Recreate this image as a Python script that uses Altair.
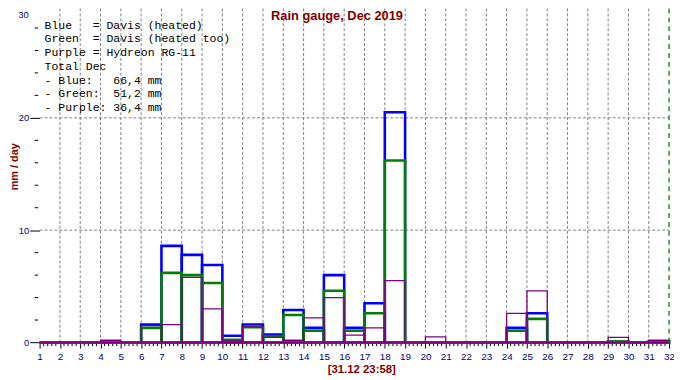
import altair as alt
import pandas as pd

# ---------------- data ----------------
days = list(range(1, 32))
blue = [0, 0, 0, 0, 0, 1.6, 8.6, 7.8, 6.9, 0.6, 1.6, 0.7, 2.9, 1.3, 6.0, 1.3, 3.5, 20.5,
        0, 0, 0, 0, 0, 1.3, 2.6, 0, 0, 0, 0.05, 0, 0.1]
green = [0, 0, 0, 0, 0, 1.3, 6.2, 6.0, 5.3, 0.25, 1.35, 0.55, 2.45, 1.05, 4.6, 1.05, 2.6, 16.2,
         0, 0, 0, 0, 0, 1.05, 2.1, 0, 0, 0, 0.1, 0, 0.1]
purple = [0, 0, 0, 0.2, 0, 1.5, 1.6, 5.8, 3.0, 0.15, 1.4, 0.45, 0.2, 2.2, 4.0, 0.65, 1.3, 5.5,
          0, 0.5, 0, 0, 0, 2.6, 4.6, 0, 0, 0, 0.45, 0, 0.2]

x_ticks = list(range(1, 33))
x_grid = list(range(2, 32))
y_ticks = [0, 10, 20]
y_top = 30
y_grid = [10, 20]
y_minor = [v for v in range(2, 30, 2) if v % 10 != 0]
x_minor = [d + k / 5 for d in range(1, 32) for k in range(1, 5)]
now_pos = 31.999

title_text = "Rain gauge, Dec 2019"
y_title = "mm / day"
time_text = "[31.12 23:58]"
legend_lines = [
    "Blue   = Davis (heated)",
    "Green  = Davis (heated too)",
    "Purple = Hydreon RG-11",
    "Total Dec",
    "- Blue:   66,4 mm",
    "- Green:  51,2 mm",
    "- Purple: 36,4 mm",
]
legend_lines = [s.replace(" ", "\u00a0") for s in legend_lines]

# ---------------- layout ----------------
W, H = 637, 336
NAVY = "#000080"
DARKRED = "#800000"
SANS = "Liberation Sans, Arial, sans-serif"
NARROW = "Liberation Sans Narrow, Liberation Sans, Arial, sans-serif"

xscale = alt.Scale(domain=[1, 32], nice=False, zero=False)
yscale = alt.Scale(domain=[0, 30], range=[336.3, -4.7], nice=False, zero=False)

x_axis = alt.Axis(
    values=x_ticks, format="d", title=None, grid=False, domainColor="black", domainWidth=1,
    tickColor="black", tickSize=6, labelColor=NAVY, labelFont=NARROW, labelFontSize=10,
    labelPadding=4, labelFlush=False, labelOverlap=False,
)
y_axis = alt.Axis(
    values=y_ticks, format="d", grid=False, domain=False, tickColor="black", tickSize=10,
    labelColor=NAVY, labelFont=NARROW, labelFontSize=9.5, labelPadding=1,
    title=y_title, titleColor=DARKRED, titleFont=SANS, titleFontSize=11, titleFontWeight="bold",
    titleAngle=270, titleX=-25, titleY=158, titleAlign="center", titleBaseline="middle",
)


def X(field):
    return alt.X(field, type="quantitative", scale=xscale, axis=x_axis)


def Y(field):
    return alt.Y(field, type="quantitative", scale=yscale, axis=y_axis)


def series_df(vals):
    return pd.DataFrame({"d0": days, "d1": [d + 1 for d in days], "v": vals})


# grid
vgrid = alt.Chart(pd.DataFrame({"x": x_grid, "y0": [0] * len(x_grid), "y1": [30] * len(x_grid)})).mark_rule(
    color="#808080", strokeDash=[3, 2], strokeWidth=1
).encode(x=X("x"), y=Y("y0"), y2="y1")

hgrid = alt.Chart(pd.DataFrame({"y": y_grid, "x0": [1] * len(y_grid), "x1": [32] * len(y_grid)})).mark_rule(
    color="#808080", strokeDash=[3, 2], strokeWidth=1
).encode(y=Y("y"), x=X("x0"), x2="x1")

# minor ticks
xminor = alt.Chart(pd.DataFrame({"x": x_minor})).mark_rule(color="black", strokeWidth=1).encode(
    x=X("x"), y=alt.value(H), y2=alt.value(H + 4),
)
yminor = alt.Chart(pd.DataFrame({"y": y_minor})).mark_rule(color="black", strokeWidth=1).encode(
    y=Y("y"), x=alt.value(-5), x2=alt.value(-1.5),
)

# top tick label (its true position lies above the page margin, so nudge it into view)
top_label = alt.Chart(pd.DataFrame({"y": [y_top], "t": [str(y_top)]})).mark_text(
    font=NARROW, fontSize=9.5, color=NAVY, align="right", baseline="middle", dy=9.5,
).encode(y=Y("y"), x=alt.value(-11), text="t:N")


def outline(vals, color, width):
    return alt.Chart(series_df(vals)).mark_rect(filled=False, stroke=color, strokeWidth=width).encode(
        x=X("d0"), x2="d1", y=Y("v"), y2=alt.datum(0),
    )


blue_l = outline(blue, "#0000FF", 2.6)
green_l = outline(green, "#008000", 2.6)
purple_l = outline(purple, "#800080", 1.3)

# "now" marker
now_l = alt.Chart(pd.DataFrame({"x": [now_pos], "y0": [0], "y1": [30]})).mark_rule(
    color="#008000", strokeDash=[5, 4], strokeWidth=1.3
).encode(x=X("x"), y=Y("y0"), y2="y1")

one = pd.DataFrame({"k": [0]})
title_l = alt.Chart(one).mark_text(
    text=title_text, font=SANS, fontSize=13, fontWeight="bold", color=DARKRED,
    align="center", baseline="alphabetic",
).encode(x=alt.value(301), y=alt.value(9.5))

legend_l = alt.Chart(one).mark_text(
    text=legend_lines, font="Liberation Mono, Courier New, monospace", fontSize=11.6, color="black",
    align="left", baseline="alphabetic", lineHeight=13.9,
).encode(x=alt.value(5), y=alt.value(18.7))

time_l = alt.Chart(one).mark_text(
    text=time_text, font=SANS, fontSize=11.5, fontWeight="bold", color=DARKRED,
    align="center", baseline="alphabetic",
).encode(x=alt.value(326), y=alt.value(367.5))

chart = alt.layer(
    vgrid, hgrid, xminor, yminor, top_label, blue_l, green_l, purple_l, now_l, title_l, legend_l, time_l
).properties(
    width=W,
    height=H,
    autosize=alt.AutoSizeParams(type="none"),
    padding={"left": 32, "top": 0, "right": 5, "bottom": 32},
    background="white",
).configure_view(stroke=None)

chart.save("out.html", embed_options={"renderer": "svg", "actions": False})
